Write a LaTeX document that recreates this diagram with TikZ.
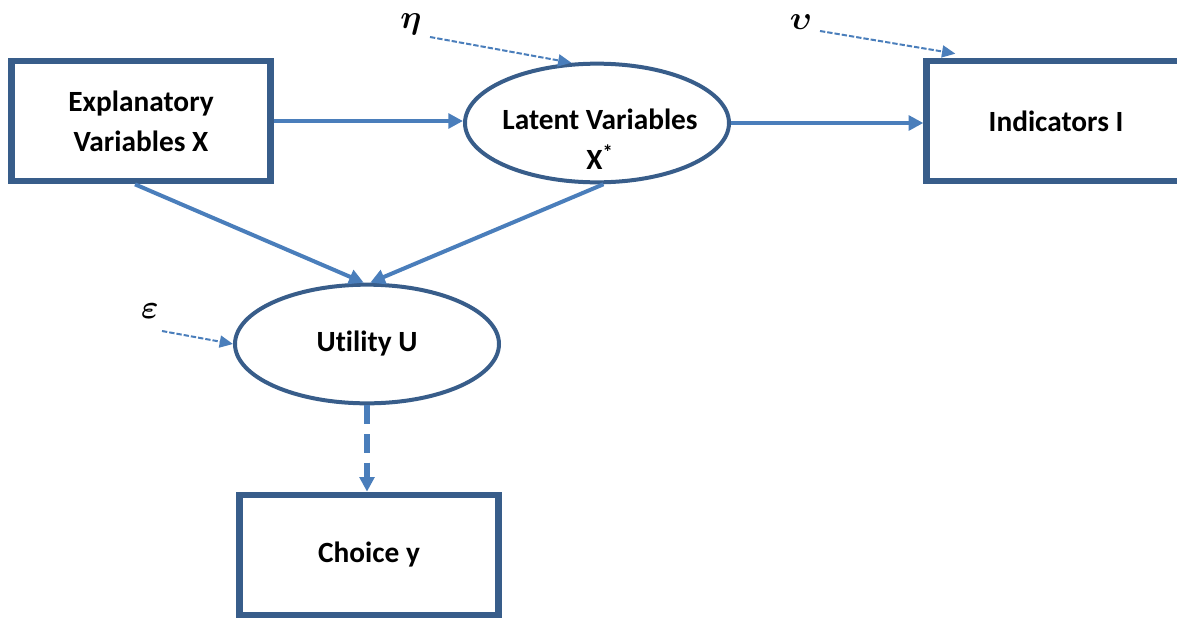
\documentclass[tikz,border=0pt]{standalone}
\usepackage{fontspec}
\setmainfont[Ligatures=NoCommon]{Carlito}
\usepackage{amsmath, bm}
\usetikzlibrary{arrows.meta, shapes.geometric}
\definecolor{boxblue}{RGB}{56,93,138}
\definecolor{arrblue}{RGB}{74,126,187}

\begin{document}
\begin{tikzpicture}[x=0.75pt, y=-0.75pt,
  box/.style={draw=boxblue, line width=5pt, minimum width=194pt, minimum height=90pt,
    align=center, font=\fontsize{22}{30}\selectfont\bfseries},
  oval/.style={ellipse, draw=boxblue, line width=3pt, minimum width=198pt, minimum height=89pt},
  txt/.style={align=center, inner sep=0pt, font=\fontsize{22}{30}\selectfont\bfseries},
  link/.style={draw=arrblue, line width=3pt, -{Triangle[length=11pt, width=11pt]}},
  dlink/.style={link, line width=4pt, dash pattern=on 14pt off 7.5pt},
  err/.style={draw=arrblue, line width=1.5pt, dash pattern=on 4pt off 1.5pt,
    -{Triangle[length=10pt, width=9pt]}},
  greek/.style={inner sep=0pt, font=\fontsize{26}{30}\selectfont}]
  \clip (0,0) rectangle (1177,618);
  % boxes and ovals
  \node[box] (expl) at (141,121) {Explanatory\\Variables X};
  \node[oval] (latent) at (597,123) {};
  \node[txt] (latentTxt) at (600,139) {Latent Variables\\X\textsuperscript{*}};
  \node[box] (ind) at (1056,121) {Indicators I};
  \node[oval, font=\fontsize{22}{30}\selectfont\bfseries] (util) at (367,344) {Utility U};
  \node[box] (choice) at (369,555) {Choice y};
  % error terms
  \node[greek] (eta) at (411,24) {$\bm{\eta}$};
  \node[greek] (ups) at (801,22) {$\bm{\upsilon}$};
  \node[greek] (eps) at (150,311) {$\bm{\varepsilon}$};
  \coordinate (etaTail) at (430,37);
  \coordinate (upsTail) at (820,31);
  \coordinate (epsTail) at (162,331);
  % structural arrows
  \draw[link] (expl.east) -- (expl.east -| latent.west);
  \draw[link] (latent.east) -- (latent.east -| ind.west);
  \draw[link] ([xshift=-4.5pt]expl.south) -- (util.93);
  \draw[link] (latent.-84) -- (util.87);
  \draw[dlink] (util.south) -- (util.south |- choice.north);
  % disturbances
  \draw[err] (etaTail) -- (latent.113);
  \draw[err] (upsTail) -- ([xshift=24pt, yshift=3pt]ind.north west);
  \draw[err] (epsTail) -- (util.west);
\end{tikzpicture}
\end{document}
